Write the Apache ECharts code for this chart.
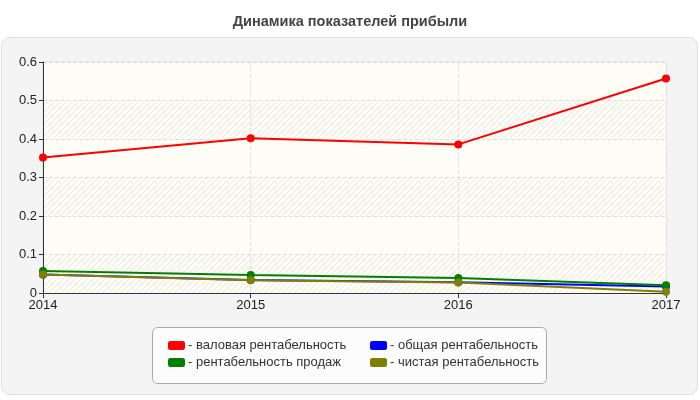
<!DOCTYPE html>
<html>
<head>
<meta charset="utf-8">
<script src="https://cdn.jsdelivr.net/npm/echarts@6/dist/echarts.min.js"></script>
<style>
  html, body { margin: 0; padding: 0; background: #fff; }
  #chart { width: 700px; height: 400px; }
</style>
</head>
<body>
<div id="chart"></div>
<script>
var years = ['2014', '2015', '2016', '2017'];
var grossMargin = [0.352, 0.402, 0.386, 0.557];   // валовая
var totalMargin = [0.048, 0.034, 0.028, 0.017];   // общая
var salesMargin = [0.057, 0.047, 0.039, 0.020];   // продаж
var netMargin = [0.048, 0.033, 0.027, 0.003];     // чистая
var yTicks = [0, 0.1, 0.2, 0.3, 0.4, 0.5, 0.6];

var names = ['валовая рентабельность', 'общая рентабельность', 'рентабельность продаж', 'чистая рентабельность'];
var colors = ['#ff0000', '#0000ff', '#008000', '#808000'];
var values = [grossMargin, totalMargin, salesMargin, netMargin];

// штриховка фона
var hatch = document.createElement('canvas');
hatch.width = 6; hatch.height = 6;
var hc = hatch.getContext('2d');
hc.fillStyle = '#fdfdf6';
hc.fillRect(0, 0, 6, 6);
hc.strokeStyle = '#e8e8e8';
hc.lineWidth = 1;
hc.beginPath();
hc.moveTo(0, 6); hc.lineTo(6, 0);
hc.moveTo(-1, 1); hc.lineTo(1, -1);
hc.moveTo(5, 7); hc.lineTo(7, 5);
hc.stroke();

var font = 'Liberation Sans, Arial, sans-serif';
var chart = echarts.init(document.getElementById('chart'));

var series = names.map(function (n, i) {
  return {
    name: n,
    type: 'line',
    data: values[i],
    symbol: 'circle',
    symbolSize: 8,
    lineStyle: { width: 2, color: colors[i] },
    itemStyle: { color: colors[i] },
    z: i + 2
  };
});

var legendText = { fontFamily: font, fontSize: 13, color: '#333', padding: [0, 0, 0, -2] };

chart.setOption({
  animation: false,
  title: {
    text: 'Динамика показателей прибыли',
    left: 'center',
    top: 9,
    textStyle: { fontFamily: font, fontSize: 14.5, fontWeight: 'bold', color: '#444' }
  },
  graphic: [
    {
      type: 'rect', z: -10, silent: true,
      shape: { x: 1.5, y: 37.5, width: 696, height: 357, r: 8 },
      style: { fill: '#f4f4f4', stroke: '#dddddd', lineWidth: 1 }
    },
    {
      type: 'rect', z: -5, silent: true,
      shape: { x: 152.5, y: 327.5, width: 394, height: 56, r: 5 },
      style: { fill: '#fcfcfc', stroke: '#aaaaaa', lineWidth: 1 }
    }
  ],
  legend: [
    {
      data: [names[0], names[2]],
      orient: 'vertical',
      left: 163, top: 334,
      itemWidth: 17, itemHeight: 9, itemGap: 4,
      icon: 'roundRect',
      formatter: '- {name}',
      textStyle: legendText
    },
    {
      data: [names[1], names[3]],
      orient: 'vertical',
      left: 365, top: 334,
      itemWidth: 17, itemHeight: 9, itemGap: 4,
      icon: 'roundRect',
      formatter: '- {name}',
      textStyle: legendText
    }
  ],
  grid: {
    left: 43, right: 34, top: 62, bottom: 107,
    show: true, borderColor: '#dddddd', borderWidth: 1, backgroundColor: '#fdfdf6'
  },
  xAxis: {
    type: 'category',
    data: years,
    boundaryGap: false,
    axisLine: { lineStyle: { color: '#333', width: 1 } },
    axisTick: { show: true, length: 5, lineStyle: { color: '#333' } },
    axisLabel: { fontFamily: font, fontSize: 13, color: '#222', margin: 6 },
    splitLine: { show: true, lineStyle: { type: 'dashed', color: '#e0e0e0' } }
  },
  yAxis: {
    type: 'value',
    min: yTicks[0],
    max: yTicks[yTicks.length - 1],
    interval: 0.1,
    axisLine: { show: true, lineStyle: { color: '#333', width: 1 } },
    axisTick: { show: true, length: 4, lineStyle: { color: '#333' } },
    axisLabel: { fontFamily: font, fontSize: 13, color: '#222', margin: 6 },
    splitLine: { show: true, lineStyle: { type: 'dashed', color: '#dddddd' } },
    splitArea: {
      show: true,
      areaStyle: { color: [{ image: hatch, repeat: 'repeat' }, '#fdfdf6'] }
    }
  },
  series: series
});
</script>
</body>
</html>
